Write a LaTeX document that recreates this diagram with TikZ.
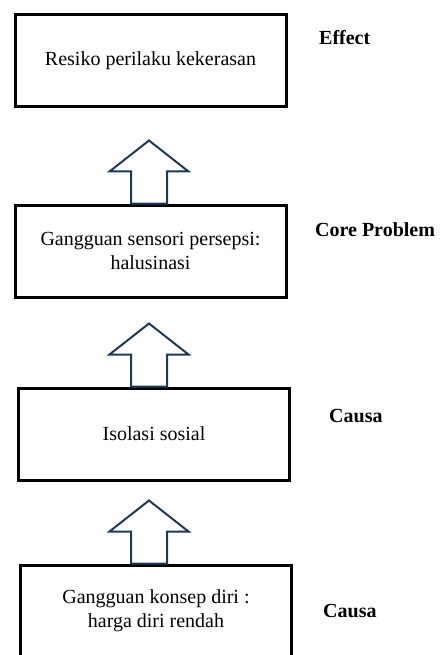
\documentclass[tikz,border=0pt]{standalone}
\usepackage{fontspec}
\setmainfont{Liberation Serif}
\usepackage{xcolor}
\usetikzlibrary{arrows.meta,positioning}
\definecolor{darkslate}{RGB}{31,56,90}

\begin{document}
\begin{tikzpicture}[x=1pt,y=-1pt,
	box/.style={draw=black, line width=3pt, minimum width=271pt, minimum height=92pt, inner sep=4pt,
		align=center, font=\fontsize{20}{24}\selectfont},
	tag/.style={anchor=base west, inner sep=0pt, font=\fontsize{20}{24}\selectfont\bfseries},
	hollow/.style={draw=darkslate, line width=2pt, fill=white, line join=miter}]

\path[use as bounding box, clip] (0,0) rectangle (439,655);

\node[box]    	(effect) at (150.5,60.5)      {Resiko perilaku kekerasan};
\node[box]    	(core)   at (150.5,251)       {Gangguan sensori persepsi:\\halusinasi};
\node[box]    	(isol)   at (154,434)         {Isolasi sosial};
\node[box]    	(konsep) at (156,611)         {Gangguan konsep diri :\\harga diri rendah};

\node[tag]    	(teffect) at (319,45)         {Effect};
\node[tag]    	(tcore)   at (315,236)        {Core Problem};
\node[tag]    	(tisol)   at (329,422)        {Causa};
\node[tag]    	(tkonsep) at (323,617)        {Causa};

\coordinate (axis) at (149,0);

\foreach \f/\t in {% lower box/upper box
	 core/effect,
	 isol/core,
	 konsep/isol}
	\draw[hollow] (axis |- \f.north) ++(-18,0) -- ++(0,-32) -- ++(-21.5,0)
		-- ++(39.5,-31) -- ++(39.5,31) -- ++(-21.5,0) -- ++(0,32) -- cycle;

\end{tikzpicture}
\end{document}
